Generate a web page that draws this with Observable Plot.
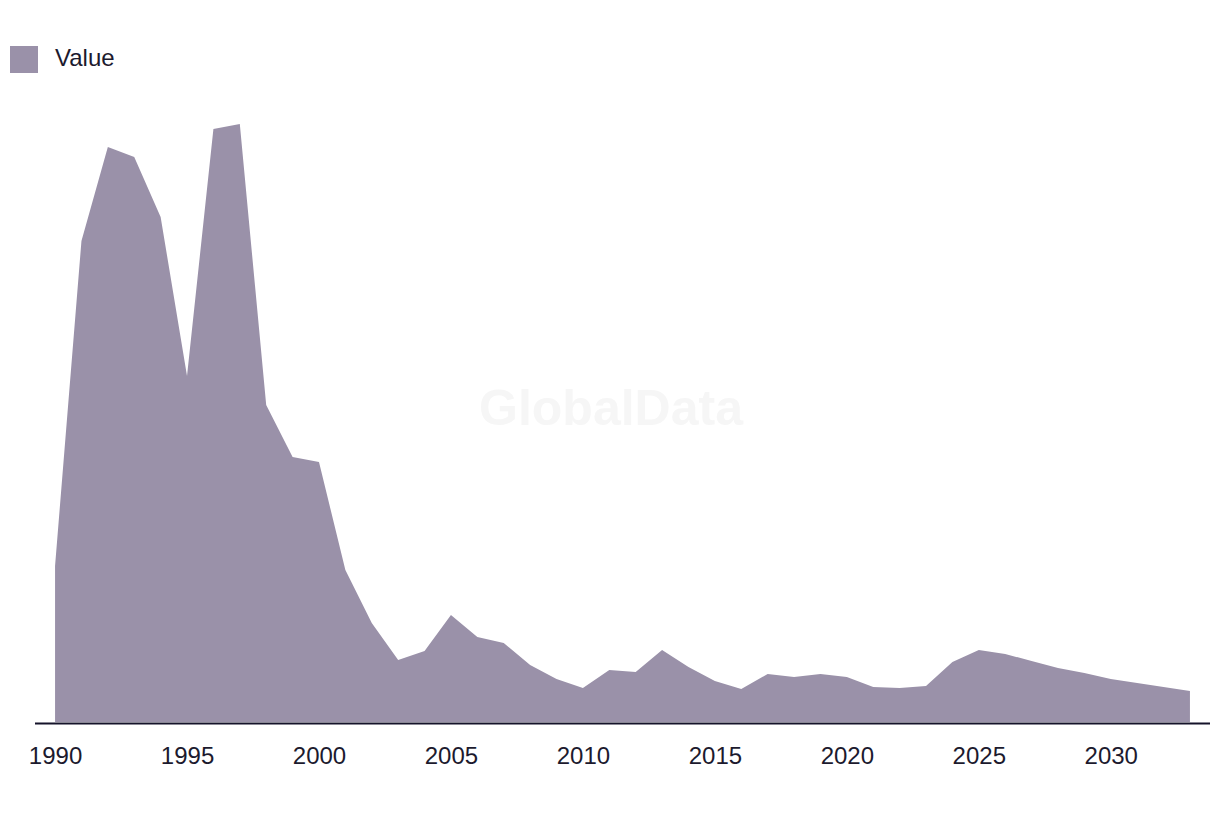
<!DOCTYPE html>
<html>
<head>
<meta charset="utf-8">
<script src="https://cdn.jsdelivr.net/npm/d3@7"></script>
<script src="https://cdn.jsdelivr.net/npm/@observablehq/plot@0.6"></script>
<style>
  html, body { margin: 0; padding: 0; background: #fff; }
  body { width: 1220px; height: 816px; position: relative; overflow: hidden; font-family: "Liberation Sans", Arial, sans-serif; }
  #chart { position: absolute; left: 0; top: 0; }
  #legend { position: absolute; left: 10px; top: 46px; height: 27px; display: flex; align-items: center; color: #1c1a2e; font-size: 24px; line-height: 24px; }
  #legend .sw { width: 28px; height: 27px; background: #9a91a9; margin-right: 17px; }
  #legend span { position: relative; top: -2px; }
</style>
</head>
<body>
<div id="chart"></div>
<div id="legend"><div class="sw"></div><span>Value</span></div>
<script>
const years = d3.range(1990, 2034);
const values = [
  156, 481, 575, 565, 505, 346, 593, 598, 317, 265,
  260, 152, 99, 62, 71, 107, 85, 79, 57, 43,
  34, 52, 50, 72, 55, 41, 33, 48, 45, 48,
  45, 35, 34, 36, 60, 72, 68, 61, 54, 49,
  43, 39, 35, 31
];
const tickYears = [1990, 1995, 2000, 2005, 2010, 2015, 2020, 2025, 2030];
const seriesName = "Value";
const data = years.map((y, i) => ({year: y, value: values[i], series: seriesName}));

const chart = Plot.plot({
  width: 1220,
  height: 816,
  marginLeft: 35,
  marginRight: 10,
  marginTop: 122,
  marginBottom: 94,
  style: {fontFamily: "Liberation Sans, Arial, sans-serif", fontSize: "24px", color: "#1c1a2e", background: "transparent"},
  x: {domain: [1989.24, 2033.76], ticks: tickYears, tickFormat: "d", tickSize: 0, tickPadding: 24, label: null},
  y: {domain: [0, 600], axis: null},
  marks: [
    Plot.text(["GlobalData"], {frameAnchor: "middle", dx: -12, dy: -14, fontSize: 50, fontWeight: "bold", fill: "#f6f6f6"}),
    Plot.areaY(data, {x: "year", y: "value", fill: "#9a91a9", curve: "linear"}),
    Plot.ruleY([0], {stroke: "#15132a", strokeWidth: 2, dy: 1})
  ]
});
document.getElementById("chart").appendChild(chart);
</script>
</body>
</html>
